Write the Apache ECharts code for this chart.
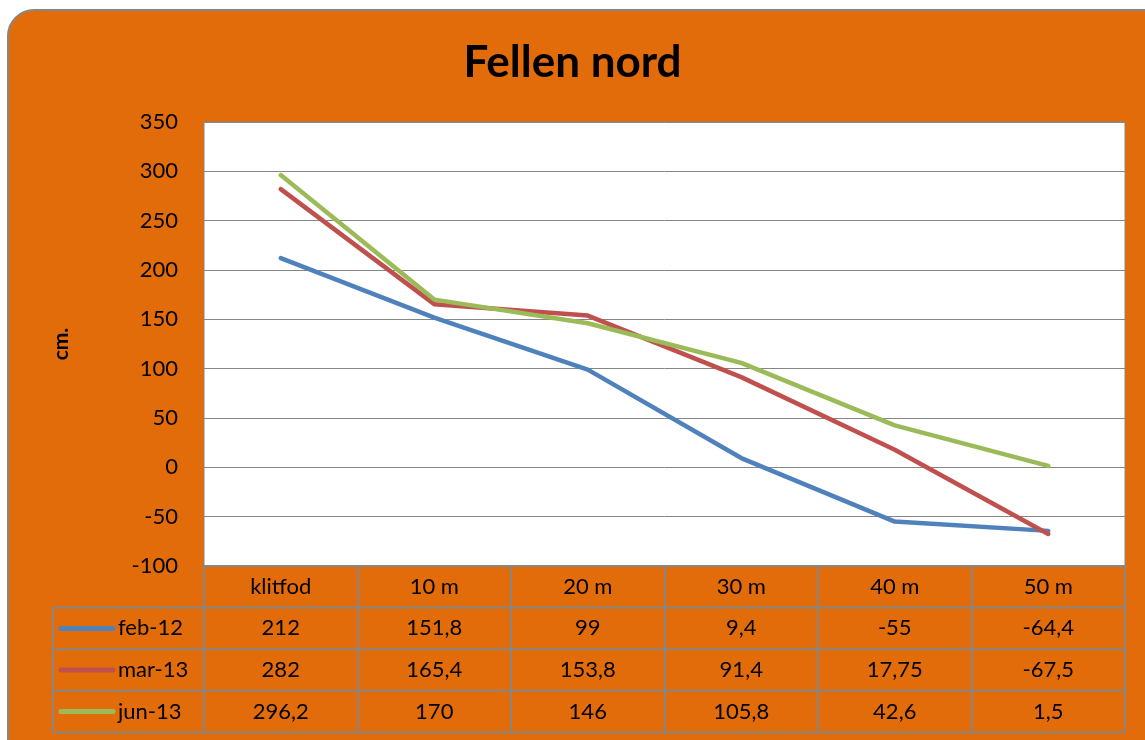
<!DOCTYPE html>
<html><head><meta charset="utf-8">
<script src="https://cdn.jsdelivr.net/npm/echarts@6/dist/echarts.min.js"></script>
<style>html,body{margin:0;padding:0;background:#fff}#c{width:1145px;height:740px}</style>
</head><body><div id="c"></div>
<script>
const categories = ['klitfod', '10 m', '20 m', '30 m', '40 m', '50 m'];
const seriesNames = ['feb-12', 'mar-13', 'jun-13'];
const feb12 = [212, 151.8, 99, 9.4, -55, -64.4];
const mar13 = [282, 165.4, 153.8, 91.4, 17.75, -67.5];
const jun13 = [296.2, 170, 146, 105.8, 42.6, 1.5];
const yTicks = { min: -100, max: 350, interval: 50 };

const seriesData = [feb12, mar13, jun13];
const colors = ['#4F81BD', '#C0504D', '#9BBB59'];
const FONT = 'Lato, "Open Sans", sans-serif';
const ORANGE = '#E36C0A';
const GRAY = '#868686';

// layout
const gL = 204, gT = 122, gR = 1125, gB = 566;
const rowH = 41.6;
const tableLeft = 53;
const rows = 4;
const tableBottom = gB + rowH * rows;

const fmt = v => String(v).replace('.', ',');

const chart = echarts.init(document.getElementById('c'), null, { renderer: 'canvas' });

const deco = [];
for (let i = 1; i <= rows; i++) {
  const y = gB + rowH * i;
  deco.push({ type: 'line', shape: { x1: tableLeft, y1: y, x2: gR, y2: y }, style: { stroke: GRAY, lineWidth: 2 }, z: 10 });
}
deco.push({ type: 'line', shape: { x1: tableLeft, y1: gB + rowH, x2: tableLeft, y2: tableBottom }, style: { stroke: GRAY, lineWidth: 2 }, z: 10 });
// legend keys inside the data table
seriesNames.forEach((n, i) => {
  const cy = gB + rowH * (i + 1.5);
  deco.push({ type: 'line', shape: { x1: 61, y1: cy, x2: 113, y2: cy }, style: { stroke: colors[i], lineWidth: 5, lineCap: 'round' }, z: 11 });
  deco.push({ type: 'text', x: 118, y: cy, style: { text: n, fontFamily: FONT, fontSize: 22, fill: '#000', verticalAlign: 'middle', align: 'left' }, z: 11 });
});

const option = {
  backgroundColor: 'transparent',
  animation: false,
  color: colors,
  title: {
    text: 'Fellen nord', left: 'center', top: 36,
    textStyle: { fontFamily: FONT, fontSize: 44, fontWeight: 'bold', color: '#000' }
  },
  grid: {
    left: gL, top: gT, right: 1145 - gR, bottom: 740 - gB,
    show: true, backgroundColor: '#fff', borderColor: GRAY, borderWidth: 1
  },
  xAxis: {
    type: 'category', data: categories, boundaryGap: true,
    axisLine: { onZero: false, lineStyle: { color: GRAY, width: 2 } },
    axisTick: { show: true, length: rowH * rows, lineStyle: { color: GRAY, width: 2 } },
    axisLabel: {
      margin: 0, interval: 0,
      formatter: (val, idx) => {
        const parts = ['{h|' + val + '}'];
        seriesData.forEach(arr => parts.push('{v|' + fmt(arr[idx]) + '}'));
        return parts.join('\n');
      },
      rich: {
        h: { fontFamily: FONT, fontSize: 22, color: '#000', lineHeight: rowH, height: rowH, align: 'center' },
        v: { fontFamily: FONT, fontSize: 22, color: '#000', lineHeight: rowH, height: rowH, align: 'center' }
      }
    },
    splitLine: { show: false }
  },
  yAxis: {
    type: 'value', min: yTicks.min, max: yTicks.max, interval: yTicks.interval,
    name: 'cm.', nameLocation: 'middle', nameRotate: 90, nameGap: 132,
    nameTextStyle: { fontFamily: FONT, fontSize: 21, fontWeight: 'bold', color: '#000' },
    axisLine: { show: false }, axisTick: { show: false },
    axisLabel: { fontFamily: FONT, fontSize: 22, color: '#000', margin: 26 },
    splitLine: { lineStyle: { color: GRAY, width: 1 } }
  },
  series: seriesNames.map((n, i) => ({
    name: n, type: 'line', data: seriesData[i], showSymbol: false, symbol: 'none',
    lineStyle: { width: 4.5, color: colors[i], cap: 'round' }, z: 3
  })),
  graphic: [
    { type: 'rect', shape: { x: 8, y: 10, width: 1200, height: 800, r: 26 }, style: { fill: ORANGE, stroke: GRAY, lineWidth: 2 }, z: -10, silent: true },
    ...deco
  ]
};
chart.setOption(option);
</script></body></html>
